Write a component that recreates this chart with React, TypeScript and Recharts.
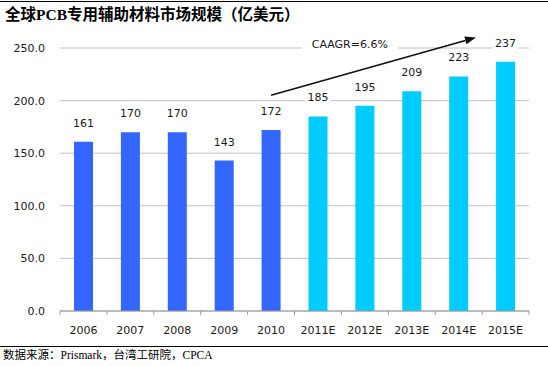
import { BarChart, Bar, XAxis, YAxis, CartesianGrid, LabelList, Cell, ReferenceLine, ReferenceDot } from 'recharts';

const years = ['2006', '2007', '2008', '2009', '2010', '2011E', '2012E', '2013E', '2014E', '2015E'];
const marketSize = [161, 170, 170, 143, 172, 185, 195, 209, 223, 237];
const isForecast = [false, false, false, false, false, true, true, true, true, true];
const yTicks = [0, 50, 100, 150, 200, 250];

// trend arrow: from 2010 towards 2015E, tip stops short of 2015E
const trendFrom = { x: '2010', y: 205 };
const trendTo = { x: '2015E', y: 268 };
const arrowReach = 0.874;
const cagrText = 'CAAGR=6.6%';
const cagrAt = { x: '2012E', y: 253 };

const title = '全球PCB专用辅助材料市场规模（亿美元）';
const source = '数据来源：Prismark，台湾工研院，CPCA';

const W = 548;
const H = 366;
const M = { top: 48, right: 19, left: 0, bottom: 25 };
const Y_W = 60;
const BAND = (W - Y_W - M.right) / years.length;

const HIST = '#3366ff';
const FCST = '#00ccff';
const FONT = "'DejaVu Sans', sans-serif";
const SERIF = "'Liberation Serif', 'Noto Sans CJK SC', serif";

const chartData = years.map((year, i) => ({ year, value: marketSize[i], forecast: isForecast[i] }));

function ValueLabel(props: any) {
  const { x, y, width, value } = props;
  const cx = x + width / 2;
  return (
    <g>
      <rect x={cx - 13} y={y - 25} width={26} height={14} fill="#fff" />
      <text x={cx} y={y - 18} textAnchor="middle" dominantBaseline="middle" fontSize={11} fontFamily={FONT} fill="#1a1a1a">
        {value}
      </text>
    </g>
  );
}

function YearTick(props: any) {
  const { x, y, payload, index } = props;
  const last = index === years.length - 1;
  return (
    <g>
      <line x1={x - BAND / 2} y1={y} x2={x - BAND / 2} y2={y + 4} stroke="#999" />
      {last && <line x1={x + BAND / 2} y1={y} x2={x + BAND / 2} y2={y + 4} stroke="#999" />}
      <text x={x} y={y + 20} textAnchor="middle" dominantBaseline="middle" fontSize={11} fontFamily={FONT} fill="#1a1a1a">
        {payload.value}
      </text>
    </g>
  );
}

function TrendArrow(props: any) {
  const { x1, y1 } = props;
  const x2 = x1 + (props.x2 - x1) * arrowReach;
  const y2 = y1 + (props.y2 - y1) * arrowReach;
  const a = Math.atan2(y2 - y1, x2 - x1);
  const len = 11;
  const hw = 4;
  const bx = x2 - len * Math.cos(a);
  const by = y2 - len * Math.sin(a);
  const px = -Math.sin(a) * hw;
  const py = Math.cos(a) * hw;
  return (
    <g>
      <line x1={x1} y1={y1} x2={bx} y2={by} stroke="#111" strokeWidth={1.6} />
      <polygon points={`${x2},${y2} ${bx + px},${by + py} ${bx - px},${by - py}`} fill="#111" />
    </g>
  );
}

function CagrBox(props: any) {
  const cx = props.cx - 15;
  const { cy } = props;
  return (
    <g>
      <rect x={cx - 48} y={cy - 8} width={96} height={16} fill="#fff" />
      <text x={cx} y={cy} textAnchor="middle" dominantBaseline="middle" fontSize={11} fontFamily={FONT} fill="#1a1a1a">
        {cagrText}
      </text>
    </g>
  );
}

export default function App() {
  return (
    <div style={{ position: 'fixed', left: 0, top: 0, width: W, height: H, background: '#fff', overflow: 'hidden' }}>
      <div style={{ position: 'absolute', left: 0, top: 1, width: W, height: 1, background: '#000' }} />
      <div style={{ position: 'absolute', left: 5, top: 5, fontFamily: SERIF, fontWeight: 'bold', fontSize: 15.5, lineHeight: '20px', color: '#000', whiteSpace: 'nowrap' }}>
        {title}
      </div>
      <BarChart width={W} height={H} data={chartData} margin={M}>
        <CartesianGrid vertical={false} stroke="#c0c0c0" />
        <XAxis
          dataKey="year"
          height={30}
          axisLine={{ stroke: '#999' }}
          tickLine={false}
          tickSize={0}
          tickMargin={0}
          interval={0}
          tick={YearTick}
        />
        <YAxis
          width={Y_W}
          domain={[0, 250]}
          ticks={yTicks}
          axisLine={false}
          tickLine={false}
          tickMargin={9}
          tickFormatter={(v: number) => v.toFixed(1)}
          tick={{ fontSize: 11, fontFamily: FONT, fill: '#1a1a1a' }}
        />
        <Bar dataKey="value" barSize={19} isAnimationActive={false}>
          {chartData.map((d) => (
            <Cell key={d.year} fill={d.forecast ? FCST : HIST} />
          ))}
          <LabelList dataKey="value" content={ValueLabel} />
        </Bar>
        <ReferenceLine segment={[trendFrom, trendTo]} ifOverflow="visible" shape={TrendArrow} />
        <ReferenceDot x={cagrAt.x} y={cagrAt.y} r={0} ifOverflow="visible" shape={CagrBox} />
      </BarChart>
      <div style={{ position: 'absolute', left: 0, top: 346, width: W, height: 1, background: '#000' }} />
      <div style={{ position: 'absolute', left: 3, top: 348, fontFamily: SERIF, fontSize: 11.5, lineHeight: '14px', color: '#000', whiteSpace: 'nowrap' }}>
        {source}
      </div>
    </div>
  );
}
